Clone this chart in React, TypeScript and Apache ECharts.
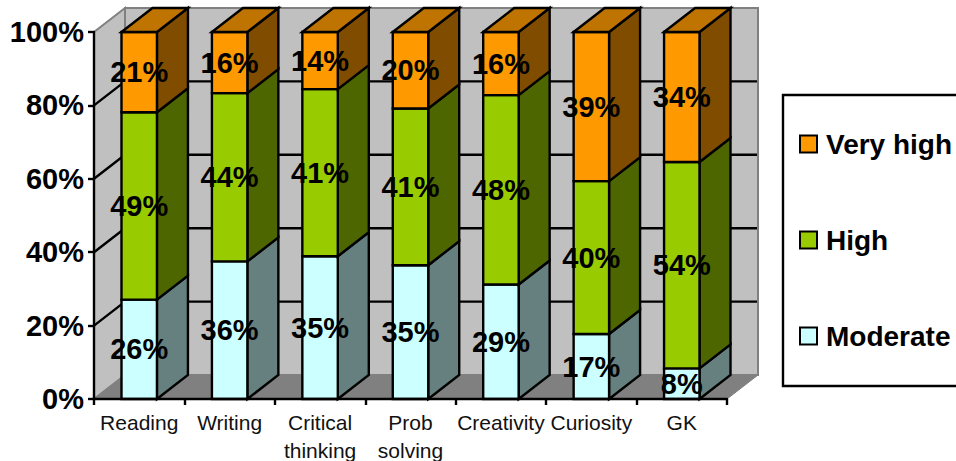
import React, { useEffect, useRef } from "react";
import * as echarts from "echarts";

const categories = ["Reading", "Writing", "Critical\nthinking", "Prob\nsolving", "Creativity", "Curiosity", "GK"];
const moderate = [26, 36, 35, 35, 29, 17, 8];
const high = [49, 44, 41, 41, 48, 40, 54];
const veryHigh = [21, 16, 14, 20, 16, 39, 34];
const yTicks = [0, 20, 40, 60, 80, 100];
const legendOrder = ["Very high", "High", "Moderate"];

const FONT = '"Liberation Sans", Arial, sans-serif';
const DX = 31;
const DY = -24;
const BAR_RATIO = 0.392;

const totals = categories.map((_, i) => moderate[i] + high[i] + veryHigh[i]);
const pct = (v: number, i: number) => (v / totals[i]) * 100;

const makeSeg = (vals: number[], below: number[][]) =>
  vals.map((v, i) => {
    const base = below.reduce((s, arr) => s + arr[i], 0);
    return [i, pct(base, i), pct(base + v, i), v];
  });

const moderateData = makeSeg(moderate, []);
const highData = makeSeg(high, [moderate]);
const veryHighData = makeSeg(veryHigh, [moderate, high]);

const stroke = { stroke: "#000", lineWidth: 2.4 };

const barRender = (front: string, side: string, top: string | null) => (_: any, api: any) => {
  const i = api.value(0);
  const p0 = api.coord([i, api.value(1)]);
  const p1 = api.coord([i, api.value(2)]);
  const w = api.size([1, 0])[0] * BAR_RATIO;
  const x0 = p0[0] - w / 2;
  const x1 = p0[0] + w / 2;
  const children: any[] = [
    {
      type: "polygon",
      shape: { points: [[x1, p0[1]], [x1 + DX, p0[1] + DY], [x1 + DX, p1[1] + DY], [x1, p1[1]]] },
      style: { fill: side, ...stroke },
    },
    { type: "rect", shape: { x: x0, y: p1[1], width: w, height: p0[1] - p1[1] }, style: { fill: front, ...stroke } },
  ];
  if (top) {
    children.push({
      type: "polygon",
      shape: { points: [[x0, p1[1]], [x0 + DX, p1[1] + DY], [x1 + DX, p1[1] + DY], [x1, p1[1]]] },
      style: { fill: top, ...stroke },
    });
  }
  return { type: "group", children };
};

const labelRender = (_: any, api: any) => {
  const p0 = api.coord([api.value(0), api.value(1)]);
  const p1 = api.coord([api.value(0), api.value(2)]);
  return {
    type: "text",
    style: {
      text: `${api.value(3)}%`,
      x: p0[0],
      y: (p0[1] + p1[1]) / 2,
      align: "center",
      verticalAlign: "middle",
      fontFamily: FONT,
      fontWeight: "bold",
      fontSize: 29,
      fill: "#000",
    },
  };
};

const wallRender = (params: any, api: any) => {
  const c = params.coordSys;
  const l = c.x;
  const r = c.x + c.width;
  const yb = api.coord([0, 0])[1];
  const yt = api.coord([0, 100])[1];
  const gray = { stroke: "#808080", lineWidth: 2 };
  const children: any[] = [
    {
      type: "polygon",
      shape: { points: [[l + DX, yt + DY], [r + DX, yt + DY], [r + DX, yb + DY], [l + DX, yb + DY]] },
      style: { fill: "#C0C0C0", ...gray },
    },
    {
      type: "polygon",
      shape: { points: [[l, yt], [l + DX, yt + DY], [l + DX, yb + DY], [l, yb]] },
      style: { fill: "#C0C0C0", ...gray },
    },
    {
      type: "polygon",
      shape: { points: [[l, yb], [l + DX, yb + DY], [r + DX, yb + DY], [r, yb]] },
      style: { fill: "#808080", stroke: "#808080", lineWidth: 1 },
    },
  ];
  yTicks.slice(1, -1).forEach((t) => {
    const y = api.coord([0, t])[1];
    children.push({
      type: "polyline",
      shape: { points: [[l, y], [l + DX, y + DY], [r + DX - 1, y + DY]] },
      style: { fill: "none", ...stroke },
    });
  });
  return { type: "group", children };
};

const colors = { moderate: "#CCFFFF", high: "#99CC00", veryHigh: "#FF9900" };

const segSeries = (name: string, data: number[][], front: string, side: string, top: string | null) => ({
  type: "custom",
  name,
  data,
  z: 3,
  itemStyle: { color: front, borderColor: "#000", borderWidth: 2 },
  encode: { x: 0, y: [1, 2] },
  renderItem: barRender(front, side, top),
  silent: true,
});

export default function App() {
  const ref = useRef<HTMLDivElement>(null);
  useEffect(() => {
    const chart = echarts.init(ref.current!, null, { renderer: "svg", width: 956, height: 461 });
    chart.setOption({
      animation: false,
      backgroundColor: "#fff",
      grid: { left: 94, width: 633, top: 32, height: 367, outerBoundsMode: "none" },
      xAxis: {
        type: "category",
        data: categories,
        z: 10,
        axisLine: { lineStyle: { color: "#000", width: 2.4 } },
        axisTick: { show: true, length: 6, lineStyle: { color: "#000", width: 2.4 } },
        axisLabel: {
          interval: 0,
          margin: 9,
          fontFamily: FONT,
          fontSize: 21,
          lineHeight: 28,
          color: "#111",
        },
      },
      yAxis: {
        type: "value",
        min: 0,
        max: 100,
        interval: 20,
        z: 10,
        axisLine: { show: true, lineStyle: { color: "#000", width: 2.4 } },
        axisTick: { show: true, length: 6, lineStyle: { color: "#000", width: 2.4 } },
        splitLine: { show: false },
        axisLabel: {
          formatter: "{value}%",
          margin: 10,
          fontFamily: FONT,
          fontWeight: "bold",
          fontSize: 29,
          color: "#000",
        },
      },
      legend: {
        show: true,
        data: legendOrder,
        orient: "vertical",
        left: 783,
        top: 95,
        padding: [35, 40, 36, 16],
        itemGap: 68,
        itemWidth: 17,
        itemHeight: 17,
        icon: "rect",
        selectedMode: false,
        backgroundColor: "#fff",
        borderColor: "#000",
        borderWidth: 2.4,
        textStyle: {
          fontFamily: FONT,
          fontWeight: "bold",
          fontSize: 28,
          color: "#000",
          padding: [0, 0, 0, 4],
        },
      },
      series: [
        {
          type: "custom",
          name: "walls",
          data: [[0, 0]],
          z: 1,
          encode: { x: 0, y: 1 },
          renderItem: wallRender,
          silent: true,
        },
        segSeries("Moderate", moderateData, colors.moderate, "#668080", null),
        segSeries("High", highData, colors.high, "#4D6600", null),
        segSeries("Very high", veryHighData, colors.veryHigh, "#804D00", "#BF7300"),
        ...[moderateData, highData, veryHighData].map((d, k) => ({
          type: "custom",
          name: `labels${k}`,
          data: d,
          z: 5,
          encode: { x: 0, y: [1, 2] },
          renderItem: labelRender,
          silent: true,
        })),
      ],
    });
    return () => chart.dispose();
  }, []);
  return <div ref={ref} style={{ position: "absolute", left: 0, top: 0, width: 956, height: 461 }} />;
}
